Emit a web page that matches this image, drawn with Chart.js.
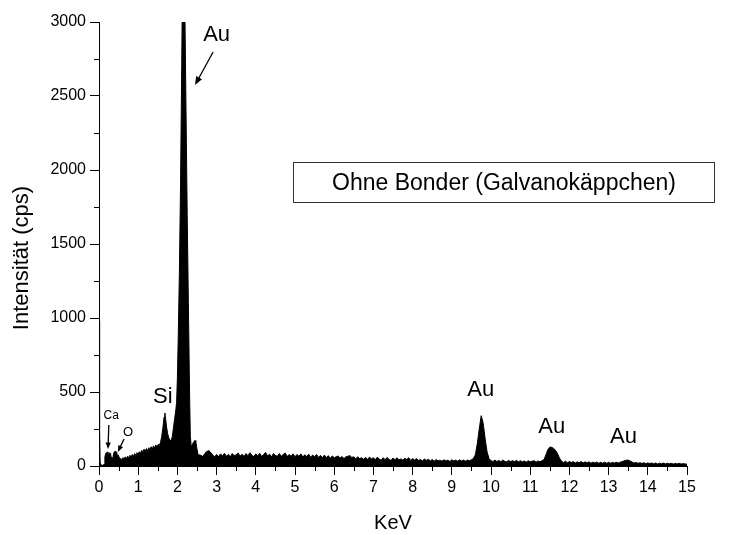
<!DOCTYPE html>
<html>
<head>
<meta charset="utf-8">
<title>EDX Spektrum</title>
<script src="https://cdn.jsdelivr.net/npm/chart.js@4/dist/chart.umd.min.js"></script>
<style>
    html, body { margin: 0; padding: 0; background: #fff; }
    #wrap { width: 729px; height: 535px; }
</style>
</head>
<body>
<div id="wrap"><canvas id="spektrum" width="729" height="535"></canvas></div>
<script>
    "use strict";

    // Niedrige Energien (0 - 2.6 KeV), dichter abgetastet wegen Si- und Au-M-Linie
    var lowKeV = [0.00, 0.01, 0.02, 0.03, 0.06, 0.10, 0.13, 0.15, 0.17, 0.19,
        0.21, 0.23, 0.25, 0.27, 0.29, 0.31, 0.33, 0.35, 0.37, 0.39,
        0.41, 0.43, 0.45, 0.47, 0.49, 0.52, 0.55, 0.58, 0.61, 0.64,
        0.67, 0.70, 0.73, 0.76, 0.79, 0.82, 0.85, 0.88, 0.91, 0.94,
        0.97, 1.00, 1.03, 1.06, 1.09, 1.12, 1.15, 1.18, 1.21, 1.24,
        1.27, 1.30, 1.33, 1.36, 1.39, 1.42, 1.45, 1.48, 1.51, 1.54,
        1.57, 1.60, 1.63, 1.66, 1.68, 1.70, 1.72, 1.75, 1.78, 1.81,
        1.84, 1.87, 1.90, 1.93, 1.96, 1.98, 2.00, 2.02, 2.05, 2.08,
        2.11, 2.13, 2.16, 2.19, 2.22, 2.25, 2.28, 2.31, 2.33, 2.35,
        2.37, 2.39, 2.42, 2.45, 2.47, 2.49, 2.52, 2.55];
    var lowCps = [980, 700, 250, 20, 5, 5, 10, 60, 85, 90,
        95, 80, 92, 74, 88, 60, 40, 45, 80, 95,
        100, 82, 94, 70, 74, 56, 50, 44, 56, 46,
        62, 50, 66, 56, 72, 60, 78, 66, 84, 70,
        90, 82, 96, 88, 106, 92, 114, 98, 118, 102,
        124, 110, 130, 114, 136, 120, 142, 128, 146, 140,
        160, 200, 260, 330, 358, 320, 270, 220, 190, 175,
        170, 200, 260, 320, 380, 430, 600, 850, 1300, 1900,
        2700, 3300, 3400, 3100, 2400, 1700, 1100, 500, 200, 140,
        130, 150, 165, 172, 165, 130, 85, 75];

    // Rest des Spektrums, Kanalbreite 0.05 KeV ab 2.60 KeV
    var bgStart = 2.60;
    var bgStep = 0.05;
    var bgCps = [
        72, 64, 85, 98, 104, 92, 74, 62, 78, 64,       // 2.60
        82, 68, 86, 66, 78, 62, 84, 70, 76, 88,        // 3.10
        66, 80, 64, 84, 70, 90, 72, 64, 82, 68,        // 3.60
        86, 64, 78, 92, 68, 80, 62, 84, 72, 66,        // 4.10
        84, 66, 78, 88, 64, 78, 66, 82, 62, 78,        // 4.60
        66, 82, 60, 76, 64, 80, 58, 74, 62, 78,        // 5.10
        58, 72, 56, 74, 56, 70, 52, 68, 56, 62,        // 5.60
        68, 54, 64, 50, 62, 66, 70, 58, 62, 48,        // 6.10
        62, 50, 56, 46, 58, 44, 60, 48, 56, 42,        // 6.60
        60, 46, 40, 56, 42, 58, 44, 38, 54, 42,        // 7.10
        56, 42, 48, 40, 52, 44, 56, 38, 50, 40,        // 7.60
        50, 38, 44, 34, 48, 38, 46, 34, 44, 32,        // 8.10
        44, 34, 40, 32, 42, 34, 40, 30, 42, 34,        // 8.60
        40, 32, 42, 34, 40, 32, 40, 36, 42, 50,        // 9.10
        75, 150, 250, 340, 290, 185, 95, 50, 36, 30,   // 9.60  Au L-alpha
        40, 30, 38, 28, 40, 32, 28, 38, 30, 36,        // 10.10
        30, 38, 28, 36, 28, 34, 26, 36, 28, 32,        // 10.60
        36, 26, 34, 28, 36, 42, 75, 110, 128, 126,     // 11.10 Au L-beta
        118, 105, 82, 52, 32, 24, 32, 22, 30, 24,      // 11.60
        30, 20, 28, 22, 30, 20, 28, 21, 28, 19,        // 12.10
        26, 20, 27, 18, 25, 19, 26, 18, 25, 19,        // 12.60
        24, 20, 25, 21, 26, 30, 35, 39, 40, 34,        // 13.10 Au L-gamma
        27, 20, 24, 18, 22, 17, 22, 16, 21, 17,        // 13.60
        20, 15, 20, 14, 19, 15, 20, 14, 18, 15,        // 14.10
        18, 13, 17, 14, 18, 13, 16, 14, 12             // 14.60 - 15.00
    ];

    // Achsen
    var xMin = 0, xMax = 15, xStep = 1;
    var yMin = 0, yMax = 3000, yStep = 500;

    // Beschriftungen der Peaks (Position in KeV / cps)
    var peakLabels = [
        { text: "Au", x: 3.00, y: 2912, size: 22 },
        { text: "Si", x: 1.63, y: 466, size: 22 },
        { text: "Ca", x: 0.31, y: 338, size: 12 },
        { text: "O", x: 0.74, y: 230, size: 13 },
        { text: "Au", x: 9.74, y: 514, size: 22 },
        { text: "Au", x: 11.55, y: 264, size: 22 },
        { text: "Au", x: 13.38, y: 196, size: 22 }
    ];
    var arrows = [
        { x1: 2.91, y1: 2797, x2: 2.45, y2: 2574, head: 9 },
        { x1: 0.25, y1: 277, x2: 0.23, y2: 115, head: 7 },
        { x1: 0.64, y1: 182, x2: 0.48, y2: 95, head: 7 }
    ];
    var legendText = "Ohne Bonder (Galvanokäppchen)";

    var FONT = "'Liberation Sans', Arial, Helvetica, sans-serif";

    var points = lowKeV.map(function (k, i) { return { x: k, y: lowCps[i] }; });
    bgCps.forEach(function (v, i) {
        points.push({ x: +(bgStart + i * bgStep).toFixed(2), y: v });
    });

    function drawArrow(ctx, ax, ay, bx, by, head) {
        var ang = Math.atan2(by - ay, bx - ax);
        ctx.beginPath();
        ctx.moveTo(ax, ay);
        ctx.lineTo(bx - Math.cos(ang) * head * 0.8, by - Math.sin(ang) * head * 0.8);
        ctx.stroke();
        ctx.beginPath();
        ctx.moveTo(bx, by);
        ctx.lineTo(bx - head * Math.cos(ang - 0.38), by - head * Math.sin(ang - 0.38));
        ctx.lineTo(bx - head * Math.cos(ang + 0.38), by - head * Math.sin(ang + 0.38));
        ctx.closePath();
        ctx.fill();
    }

    // Nebenstriche, Achsentitel, Pfeile und Kasten
    var extras = {
        id: "extras",
        afterDraw: function (chart) {
            var ctx = chart.ctx;
            var xs = chart.scales.x, ys = chart.scales.y;
            var area = chart.chartArea;
            ctx.save();
            ctx.strokeStyle = "#000";
            ctx.fillStyle = "#000";
            ctx.lineWidth = 1;

            ctx.beginPath();
            for (var k = xMin + xStep / 2; k < xMax; k += xStep) {
                var px = Math.round(xs.getPixelForValue(k)) + 0.5;
                ctx.moveTo(px, area.bottom);
                ctx.lineTo(px, area.bottom + 5);
            }
            for (var v = yMin + yStep / 2; v < yMax; v += yStep) {
                var py = Math.round(ys.getPixelForValue(v)) + 0.5;
                ctx.moveTo(area.left - 5, py);
                ctx.lineTo(area.left, py);
            }
            ctx.stroke();

            // Achsentitel
            ctx.textAlign = "center";
            ctx.textBaseline = "middle";
            ctx.font = "20px " + FONT;
            ctx.fillText("KeV", (area.left + area.right) / 2, 523);
            ctx.save();
            ctx.font = "22px " + FONT;
            ctx.translate(22, 258);
            ctx.rotate(-Math.PI / 2);
            ctx.fillText("Intensität (cps)", 0, 0);
            ctx.restore();

            peakLabels.forEach(function (l) {
                ctx.font = l.size + "px " + FONT;
                ctx.fillText(l.text, xs.getPixelForValue(l.x), ys.getPixelForValue(l.y));
            });

            ctx.lineWidth = 1.3;
            arrows.forEach(function (a) {
                drawArrow(ctx, xs.getPixelForValue(a.x1), ys.getPixelForValue(a.y1),
                    xs.getPixelForValue(a.x2), ys.getPixelForValue(a.y2), a.head);
            });

            // Kasten mit Probenbezeichnung
            var bx1 = Math.round(xs.getPixelForValue(4.95)) + 0.5;
            var bx2 = Math.round(xs.getPixelForValue(15.7)) + 0.5;
            var by1 = Math.round(ys.getPixelForValue(2054)) + 0.5;
            var by2 = Math.round(ys.getPixelForValue(1784)) + 0.5;
            ctx.lineWidth = 1;
            ctx.strokeStyle = "#333";
            ctx.strokeRect(bx1, by1, bx2 - bx1, by2 - by1);
            ctx.font = "23px " + FONT;
            ctx.fillText(legendText, (bx1 + bx2) / 2, (by1 + by2) / 2 + 1);
            ctx.restore();
        }
    };

    var ctx = document.getElementById("spektrum").getContext("2d");
    var chart = new Chart(ctx, {
        type: "line",
        data: {
            datasets: [{
                data: points,
                borderColor: "#000",
                backgroundColor: "#000",
                borderWidth: 1,
                pointRadius: 0,
                tension: 0,
                fill: "origin"
            }]
        },
        options: {
            responsive: false,
            animation: false,
            events: [],
            layout: { padding: { left: 0, top: 22, right: 42, bottom: 0 } },
            plugins: { legend: { display: false }, tooltip: { enabled: false } },
            scales: {
                x: {
                    type: "linear",
                    min: xMin,
                    max: xMax,
                    afterFit: function (s) { s.height = 69; },
                    ticks: { stepSize: xStep, color: "#000", padding: 3, maxRotation: 0, font: { family: FONT, size: 16 } },
                    grid: { drawOnChartArea: false, drawTicks: true, tickLength: 9, color: "#000" },
                    border: { display: true, color: "#000", width: 1 }
                },
                y: {
                    min: yMin,
                    max: yMax,
                    afterFit: function (s) { s.width = 99; },
                    ticks: {
                        stepSize: yStep, color: "#000", padding: 4, font: { family: FONT, size: 16 },
                        callback: function (value) { return String(value); }
                    },
                    grid: { drawOnChartArea: false, drawTicks: true, tickLength: 9, color: "#000" },
                    border: { display: true, color: "#000", width: 1 }
                }
            }
        },
        plugins: [extras]
    });
</script>
</body>
</html>
